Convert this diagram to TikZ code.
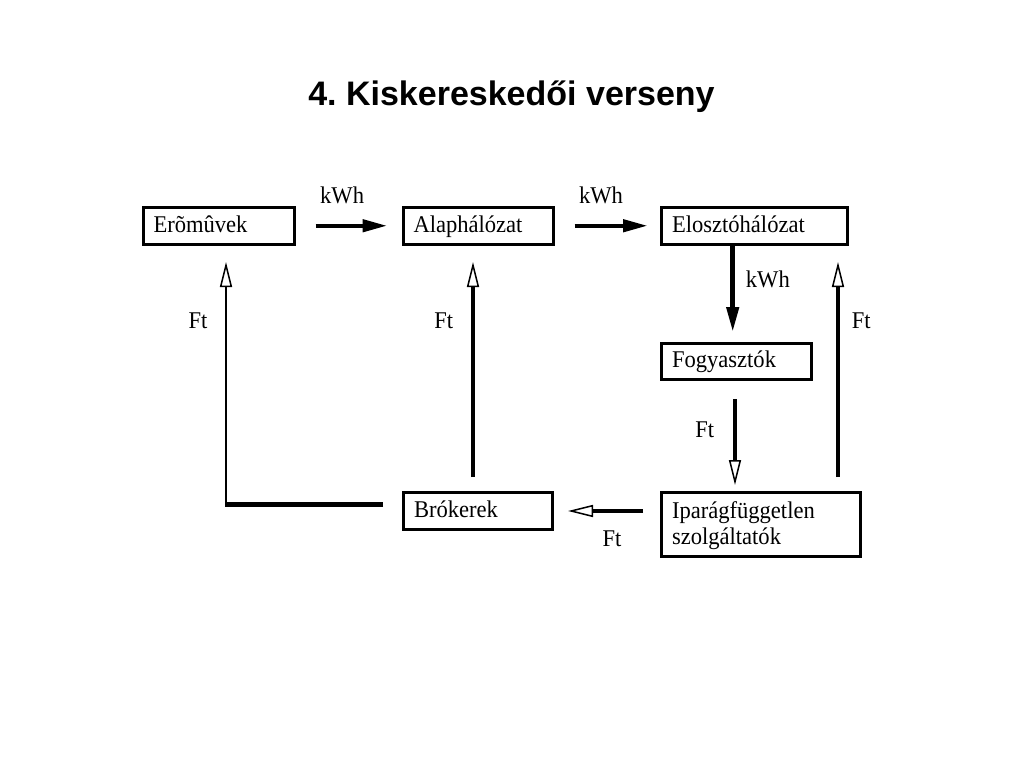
\documentclass[tikz,border=0pt]{standalone}
\usepackage{fontspec}
\setmainfont{Liberation Serif}
\newfontfamily\boxfont[FakeStretch=0.94]{Liberation Serif}
\newfontfamily\titlefont{Liberation Sans}
\usetikzlibrary{arrows.meta}
\frenchspacing

\begin{document}
\begin{tikzpicture}[x=1pt,y=-1pt,
  box/.style={draw,line width=3pt,anchor=north west,inner xsep=10.5pt,inner ysep=0pt,
    align=left,text height=17pt,text depth=4pt,font=\boxfont\fontsize{24}{26}\selectfont},
  lbl/.style={inner sep=0pt,font=\boxfont\fontsize{24}{26}\selectfont},
  flow/.style={line width=4.5pt,-{Triangle[length=25pt,width=12pt]}},
  pay/.style={line width=4.5pt,-{Triangle[open,length=25pt,width=12pt,line width=1.5pt]}},
  thinpay/.style={line width=2.2pt,-{Triangle[open,length=25pt,width=12pt,line width=1.5pt]}}]
\useasboundingbox (0,0) rectangle (1024,768);
\node[anchor=base,font=\titlefont\bfseries\fontsize{34}{40}\selectfont] (title) at (511.5,105) {4. Kiskereskedői verseny};
\node[box,text width=130pt,minimum height=36.5pt] (ero) at (141.5,206) {Erõmûvek};
\node[box,text width=129pt,minimum height=36.5pt] (alap) at (401.5,206) {Alaphálózat};
\node[box,text width=165pt,minimum height=36.5pt] (eloszt) at (660,206) {Elosztóhálózat};
\node[box,text width=129pt,minimum height=36.5pt] (fogy) at (660,341.5) {Fogyasztók};
\node[box,text width=128pt,minimum height=37pt] (brok) at (402,491) {Brókerek};
\node[box,text width=178pt,minimum height=64pt,text depth=30pt] (ipar) at (660,491) {Iparágfüggetlen\\szolgáltatók};
% kWh
\path[flow] (ero) edge[shorten <=20pt,shorten >=14pt] node[lbl,above=20pt,pos=0.44] {kWh} (alap);
\path[flow] (alap) edge[shorten <=20pt,shorten >=12pt] node[lbl,above=20pt,pos=0.44] {kWh} (eloszt);
\draw[flow,shorten >=9.5pt] ([xshift=72.7pt]eloszt.south west) -- node[lbl,right=11pt,pos=0.35] {kWh} ([xshift=72.7pt]fogy.north west);
% Ft
\draw[pay,shorten <=18pt,shorten >=6pt] ([xshift=75pt]fogy.south west) -- node[lbl,left=18.5pt,pos=0.445] {Ft} ([xshift=75pt]ipar.north west);
\draw[pay,shorten <=14pt,shorten >=16.5pt] ([xshift=178pt]ipar.north west) -- node[lbl,right=11.5pt,pos=0.692] {Ft} ([xshift=178pt]eloszt.south west);
\draw[pay,shorten <=17pt,shorten >=14pt] (ipar.west |- brok.east) -- node[lbl,below=18pt,pos=0.453] {Ft} (brok.east);
\draw[pay,shorten <=14pt,shorten >=16.5pt] ([xshift=-5pt]brok.north) -- node[lbl,left=17.5pt,pos=0.692] {Ft} ([xshift=-5pt]brok.north |- alap.south);
\coordinate (bend) at ([xshift=-176pt,yshift=6.5pt]brok.west);
\draw[line width=4.5pt] ([xshift=-19pt,yshift=6.5pt]brok.west) -- ([xshift=-1pt]bend);
\draw[thinpay,shorten >=16.5pt] (bend) -- node[lbl,left=17.5pt,pos=0.708] {Ft} (bend |- ero.south);
\end{tikzpicture}
\end{document}
